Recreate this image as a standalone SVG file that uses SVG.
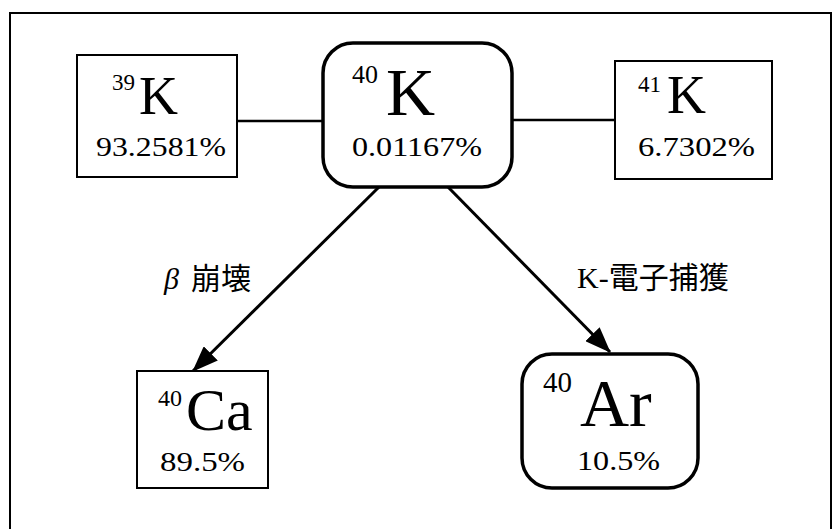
<svg xmlns="http://www.w3.org/2000/svg" width="834" height="529" viewBox="0 0 834 529">
  <style>
    .box { fill: #ffffff; stroke: #000000; stroke-width: 2; }
    .rbox { fill: #ffffff; stroke: #000000; stroke-width: 3.5; }
    .link { stroke: #000000; stroke-width: 2.5; fill: none; }
    .arrow { stroke: #000000; stroke-width: 3; fill: none; marker-end: url(#head); }
    .el { font-family: "Liberation Serif", "Times New Roman", serif; fill: #000000; }
    .lbl { font-family: "Liberation Serif", "Noto Sans CJK JP", serif; font-size: 30px; fill: #000000; }
    .cjk { font-family: "Noto Sans CJK JP", sans-serif; }
  </style>
  <defs>
    <marker id="head" viewBox="0 0 26 20" refX="25" refY="10" markerWidth="26" markerHeight="20" markerUnits="userSpaceOnUse" orient="auto">
      <path d="M0,0 L26,10 L0,20 Z" fill="#000000"/>
    </marker>
  </defs>

  <rect width="834" height="529" fill="#ffffff"/>
  <!-- outer frame -->
  <path d="M10,529 V13 H831 V529" fill="none" stroke="#000000" stroke-width="2"/>

  <g id="connectors">
    <line class="link" x1="237" y1="121" x2="323" y2="121"/>
    <line class="link" x1="512" y1="120" x2="615" y2="120"/>
    <line class="arrow" x1="379" y1="187" x2="193" y2="371"/>
    <line class="arrow" x1="448" y1="187" x2="610" y2="352"/>
    <text class="lbl" x="164" y="289"><tspan font-style="italic">β</tspan><tspan class="cjk" dx="12">崩壊</tspan></text>
    <text class="lbl" x="577" y="288" font-size="31">K-<tspan class="cjk">電子捕獲</tspan></text>
  </g>

  <g id="k39">
    <rect class="box" x="77" y="55" width="160" height="122"/>
    <text class="el" x="112" y="90" font-size="23">39</text>
    <text class="el" x="139" y="114" font-size="54">K</text>
    <text class="el" x="96" y="156" font-size="28" textLength="130" lengthAdjust="spacingAndGlyphs">93.2581%</text>
  </g>

  <g id="k40">
    <rect class="rbox" x="323" y="43" width="189" height="144" rx="30" ry="30"/>
    <text class="el" x="352" y="83" font-size="26">40</text>
    <text class="el" x="386" y="115" font-size="68">K</text>
    <text class="el" x="352" y="156" font-size="28" textLength="130" lengthAdjust="spacingAndGlyphs">0.01167%</text>
  </g>

  <g id="k41">
    <rect class="box" x="615" y="61" width="157" height="118"/>
    <text class="el" x="638" y="92" font-size="23">41</text>
    <text class="el" x="667" y="113" font-size="54">K</text>
    <text class="el" x="638" y="156" font-size="28" textLength="117" lengthAdjust="spacingAndGlyphs">6.7302%</text>
  </g>

  <g id="ca40">
    <rect class="box" x="137" y="371" width="131" height="117"/>
    <text class="el" x="158" y="406" font-size="24">40</text>
    <text class="el" x="186" y="430" font-size="60">Ca</text>
    <text class="el" x="160" y="471" font-size="28" textLength="85" lengthAdjust="spacingAndGlyphs">89.5%</text>
  </g>

  <g id="ar40">
    <rect class="rbox" x="522" y="354" width="176" height="134" rx="30" ry="30"/>
    <text class="el" x="543" y="392" font-size="29">40</text>
    <text class="el" x="580" y="426" font-size="68">Ar</text>
    <text class="el" x="577" y="470" font-size="28" textLength="83" lengthAdjust="spacingAndGlyphs">10.5%</text>
  </g>
</svg>
